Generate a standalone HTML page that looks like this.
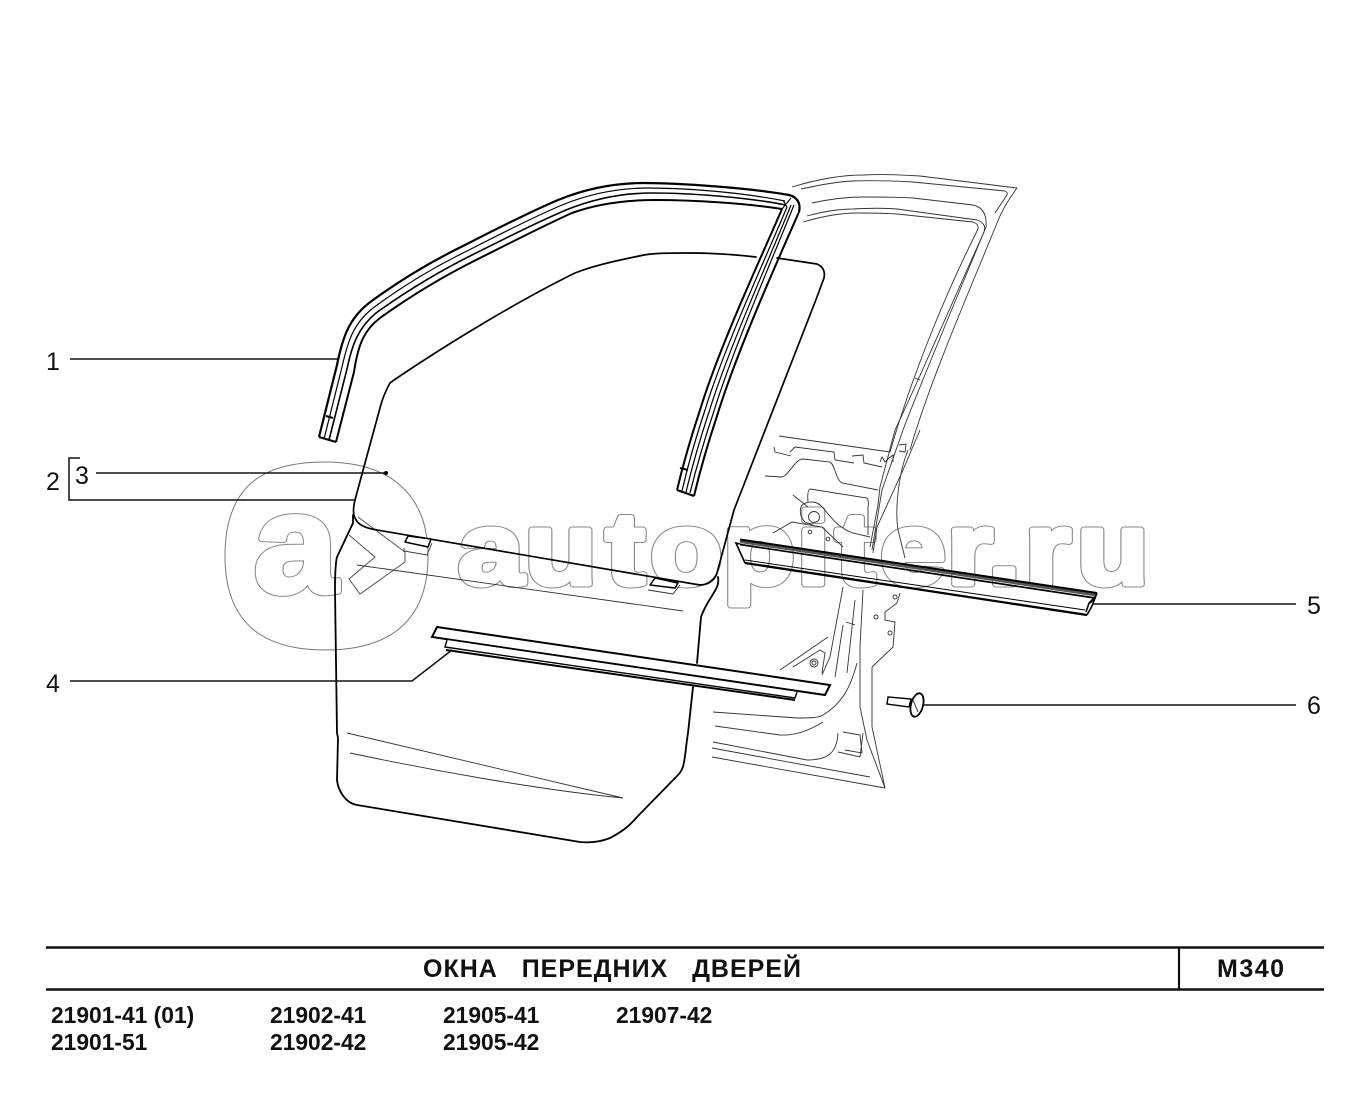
<!DOCTYPE html>
<html><head><meta charset="utf-8"><style>
html,body{margin:0;padding:0;background:#fff;width:1370px;height:1111px;overflow:hidden}
svg{display:block}
.l{font:25px "Liberation Sans",sans-serif;fill:#111}
.b{font:bold 22.8px "Liberation Sans",sans-serif;fill:#111}
.t{font:bold 25px "Liberation Sans","Noto Sans CJK SC",sans-serif;fill:#111}
.k{fill:none;stroke:#000;stroke-width:1.8;stroke-linejoin:round;stroke-linecap:round}
.f{fill:none;stroke:#333;stroke-width:.9}
.w1{font:bold 102px "Liberation Sans",sans-serif;fill:none;stroke:#8a8a8a;stroke-width:7;stroke-linejoin:round}
.w2{font:bold 102px "Liberation Sans",sans-serif;fill:#fff;stroke:#fff;stroke-width:5;stroke-linejoin:round}
</style></head><body>
<svg width="1370" height="1111" viewBox="0 0 1370 1111" xmlns="http://www.w3.org/2000/svg">
<rect width="1370" height="1111" fill="#fff"/>
<!-- watermark -->
<path d="M225 556C225 480 270 462 325 462C385 462 428 490 428 556C428 625 385 650 325 650C265 650 225 625 225 556Z" fill="none" stroke="#777" stroke-width="1"/>
<g transform="scale(1.07,1)">
<text class="w1" x="237.4" y="592" style="font-size:140px">a</text>
<text class="w2" x="237.4" y="592" style="font-size:140px">a</text>
</g>
<g transform="scale(1.15,1)">
<text class="w1" y="584" x="398.6 456.5 526.7 565.6 628.7 693 726.7 765.6 823.5 859.1 891.3 936.5">autopiter.ru</text>
<text class="w2" y="584" x="398.6 456.5 526.7 565.6 628.7 693 726.7 765.6 823.5 859.1 891.3 936.5">autopiter.ru</text>
</g>
<path d="M358 517L405 552L405 562L360 594L349 579L375 557L349 535" fill="none" stroke="#555" stroke-width="1"/>
<!-- body frame -->
<g class="f">
<path d="M792 187C815 180 840 175 863 175C885 174 905 175 920 176L1017 188C1008 200 1002 210 997 223C972 285 930 380 910 450"/>
<path d="M801 189C820 185 835 182 853 181C875 180 895 181 913 182L1005 191Q1008 192 1007 195L995 213"/>
<path d="M812 203C830 199 845 197 863 197C880 197 895 197 913 198L973 205C982 207 987 214 986 227C962 285 920 385 903 430L882 490L872 550"/>
<path d="M807 216C825 211 840 209 853 209C870 208 885 208 897 209L977 220C983 222 986 226 984 232C960 285 912 395 895 430L880 487L878 505L870 547"/>
<path d="M803 222C820 217 840 213 857 213C875 213 885 213 897 214L973 222Q979 224 978 229C950 285 915 365 890 452L779 436"/>
<path d="M915 378L920 380"/>
<path d="M774 447L775 452L791 456M790 452L795 447L834 452L835 460L854 463M852 456L863 455L864 463L882 467M880 462L882 457L885 462L889 458L893 455L893 462M899 445L906 444L905 452L899 451"/>
<path d="M765 476L782 477C790 474 795 459 803 459L830 462C835 465 836 480 842 483L878 490"/>
<path d="M808 502Q807 490 810 489L867 498Q869 500 868 508L868 535"/>
<path d="M793 495L808 507M802 505C808 501 817 500 823 508C830 516 836 524 843 528C847 531 850 532 853 533L870 537"/>
<path d="M802 505C799 510 800 517 805 522L813 525"/>
<path d="M773 533L792 522L822 527L843 547"/>
<circle cx="814" cy="517" r="5.5"/><circle cx="810" cy="532" r="1.8"/><circle cx="828" cy="539" r="1.8"/>
<path d="M920 430L903 470L877 527L873 553M908 450C898 475 895 510 898 530L905 558"/>
<path d="M843 587L830 657L822 675M855 600L847 673M843 625L835 677"/>
<path d="M780 670L828 637M793 667L820 650L825 653L822 673M855 625L846 622"/>
<circle cx="814" cy="663" r="4"/><circle cx="814" cy="663" r="2"/>
<path d="M863 590L860 647L860 707L867 740L885 788M872 667L872 727L885 788"/>
<path d="M872 667L893 647L895 622L885 620L885 612L897 603L900 593"/>
<circle cx="895" cy="597" r="2"/><circle cx="876" cy="617" r="2"/><circle cx="890" cy="633" r="2"/>
<path d="M713 712L797 718C810 718 818 718 823 715C840 705 850 690 857 663"/>
<path d="M715 726L780 735C795 736 810 730 823 722"/>
<path d="M713 742L807 760C825 760 837 755 838 733M712 748L870 777M712 757L885 788"/>
<path d="M843 732L860 735L862 753L845 750M838 752L860 757L863 733"/>
</g>
<!-- door -->
<g class="k">
<path d="M353 515Q353 520 353 523L337 557Q335 565 335 590L337 733L338 738L337 780C338 790 345 803 357 805L580 842C590 843 600 842 610 838C625 830 630 825 637 817L678 775Q683 770 684 762C686 752 686 745 688 733L693 687M697 663L701 617C705 605 712 597 717 587Q719 582 718 577"/>
<path d="M777 258L817 264Q826 268 824 278L817 297L734 510L717 573C715 580 708 585 700 585L377 530C365 528 358 525 355 518Q352 512 355 500L365 463L380 408C382 400 385 392 390 383L394 380C450 342 520 300 575 273C595 265 620 260 644 255C655 253 670 253 689 253C710 253 730 254 756 257" stroke-width="1.7"/>
<path d="M405 542L408 536L431 539L428 547Z" fill="#fff" stroke-width="1.5"/>
<path d="M650 585L655 578L678 583L675 588Z" fill="#fff" stroke-width="1.5"/>
</g>
<g class="f">
<path d="M404 548L404 551L427 555L432 543M648 590L673 594L680 585"/>
<path d="M357 565L683 611M347 733L623 798M350 753C430 770 540 790 623 798"/>
</g>
<!-- window channel -->
<g fill="none" stroke="#000">
<path stroke-width="2.2" d="M319 437L337 365C343 335 350 318 369 303C400 280 430 262 465 245C500 227 530 212 558 200C590 187 620 183 644 183C680 183 750 188 789 195C797 197 801 203 799 212"/>
<path stroke-width="1.2" d="M324 439L342 367C348 340 354 323 373 308C404 285 434 267 469 250C504 232 534 217 562 205C594 192 624 188 648 188C684 188 740 192 785 201"/>
<path stroke-width="1.6" d="M329 440L347 369C352 345 358 328 376 313C408 290 438 272 472 255C508 237 538 222 566 210C598 197 628 193 652 193C688 193 745 197 786 205"/>
<path stroke-width="2" d="M336 442L354 372C358 345 364 330 380 318C412 295 442 277 476 260C512 242 545 225 572 213C602 202 632 200 656 200C690 200 745 203 782 209"/>
<path stroke-width="2" d="M319 437L336 442M326 416L333 418"/>
<path stroke-width="2" d="M782 209C760 260 720 345 700 410C690 440 683 465 677 490"/>
<path stroke-width="1.2" d="M787 207C765 260 725 345 705 410C695 440 688 465 682 491"/>
<path stroke-width="1.2" d="M791 205C769 260 729 347 709 412C699 442 692 467 686 492"/>
<path stroke-width="1.2" d="M794 205C772 260 733 349 713 414C703 444 696 469 690 493"/>
<path stroke-width="2" d="M799 212C777 262 737 351 717 416C707 446 700 471 694 496"/>
<path stroke-width="2" d="M677 490L694 496M680 468L688 470"/>
<path stroke-width="1.2" d="M783 200L787 207M782 209L791 198"/>
</g>
<!-- molding 4 -->
<path d="M437 627L830 685L825 695L432 637Z" fill="#fff" stroke="#000" stroke-width="2"/>
<path d="M447 640L445 647L795 698L797 692" fill="#fff" stroke="#000" stroke-width="1.4"/>
<path d="M446 650L795 700" stroke="#000" stroke-width="2" fill="none"/>
<!-- molding 5 -->
<g fill="none" stroke="#000">
<path d="M740 544L736 543L745 563" stroke-width="1.6"/>
<path d="M740 541.5L1096 595" stroke="#555" stroke-width="3"/>
<path d="M740 539.5L1097 593" stroke-width="2"/>
<path d="M740 544.5L1095 598" stroke-width="1.7"/>
<path d="M745 560L1085 610" stroke-width="1"/>
<path d="M745 563L1087 615" stroke-width="2.3"/>
<path d="M1097 593L1092 606L1087 615M1086 612L1089 603L1096 596M1090 603L1094 599" stroke-width="1.6"/>
</g>
<!-- clip 6 -->
<path d="M888 697L887 704L909 707L911 699Z" fill="#fff" stroke="#000" stroke-width="1.4"/>
<ellipse cx="917" cy="705" rx="6" ry="12" transform="rotate(15 917 705)" fill="#fff" stroke="#000" stroke-width="1.8"/>
<path d="M913 700L918 712" stroke="#444" fill="none"/>
<!-- leaders -->
<g fill="none" stroke="#111" stroke-width="1.5">
<path d="M70 359L338 359"/>
<path d="M96 473L386 473"/>
<path d="M80 458L69 458L69 500L355 500"/>
<path d="M70 681L412 681L452 650"/>
<path d="M1092 604L1296 604"/>
<path d="M922 705L1296 705"/>
</g>
<circle cx="386" cy="473" r="2" fill="#000"/>
<!-- labels -->
<text class="l" x="46" y="370">1</text>
<text class="l" x="46" y="490">2</text>
<text class="l" x="75" y="484">3</text>
<text class="l" x="46" y="692">4</text>
<text class="l" x="1307" y="614">5</text>
<text class="l" x="1307" y="714">6</text>
<!-- title block -->
<g stroke="#111" fill="none">
<path d="M46 947.5L1324 947.5" stroke-width="2.6"/>
<path d="M46 989.5L1324 989.5" stroke-width="2.6"/>
<path d="M1179 947L1179 989" stroke-width="2.2"/>
</g>
<text class="t" x="423" y="977" textLength="378" xml:space="preserve" style="white-space:pre">ОКНА   ПЕРЕДНИХ   ДВЕРЕЙ</text>
<text class="t" x="1217" y="977" textLength="67">М340</text>
<text class="b" x="51" y="1023">21901-41 (01)</text>
<text class="b" x="270" y="1023">21902-41</text>
<text class="b" x="443" y="1023">21905-41</text>
<text class="b" x="616" y="1023">21907-42</text>
<text class="b" x="51" y="1050">21901-51</text>
<text class="b" x="270" y="1050">21902-42</text>
<text class="b" x="443" y="1050">21905-42</text>
</svg>
</body></html>
